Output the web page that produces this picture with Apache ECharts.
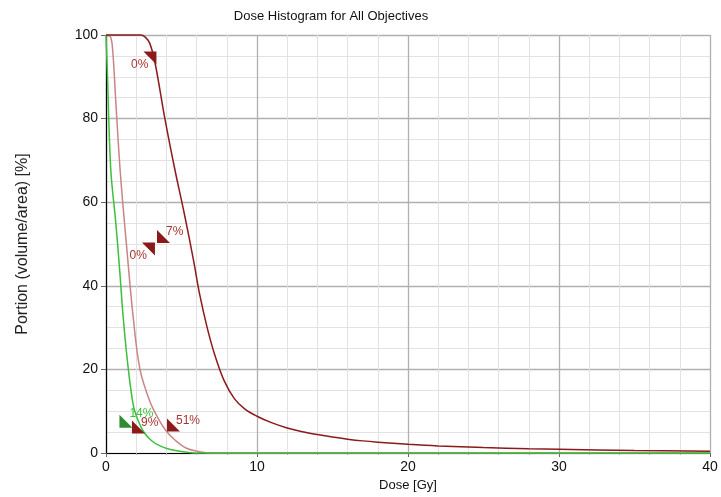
<!DOCTYPE html>
<html>
<head>
<meta charset="utf-8">
<script src="https://cdn.jsdelivr.net/npm/echarts@6/dist/echarts.min.js"></script>
<style>
html,body{margin:0;padding:0;background:#fff;}
#c{width:721px;height:497px;}
</style>
</head>
<body>
<div id="c"></div>
<script>
// ---- data ----
const titleText = 'Dose Histogram for All Objectives';
const xTitle = 'Dose [Gy]';
const yTitle = 'Portion (volume/area) [%]';

const darkRedDose = [0, 2.3, 2.6, 2.9, 3.25, 3.9, 4.55, 5.2, 5.8, 6.2, 6.7, 7.2, 7.8, 8.5, 9.2, 10, 11, 12, 13, 14, 15, 16, 17, 18, 20, 22, 25, 28, 30, 35, 40];
const darkRedVol  = [100, 100, 99.5, 98, 93.3, 80, 68, 57, 46, 38, 30, 23.5, 17.5, 13, 10.5, 8.8, 7.2, 6, 5.1, 4.4, 3.8, 3.3, 2.9, 2.6, 2.1, 1.7, 1.3, 1.0, 0.9, 0.6, 0.4];

const pinkDose = [0, 0.3, 0.45, 0.65, 0.95, 1.4, 1.8, 2.25, 2.9, 3.5, 4.0, 4.6, 5.3, 6.2, 7, 40];
const pinkVol  = [100, 99.5, 96, 84, 67, 48, 32.5, 20, 12.4, 8, 5.2, 3, 1.2, 0.3, 0, 0];

const greenDose = [0, 0.1, 0.2, 0.33, 0.65, 0.9, 1.15, 1.48, 1.81, 2.1, 2.47, 3, 3.58, 4.2, 4.9, 5.8, 40];
const greenVol  = [100, 90, 78, 67, 55, 44, 32, 20, 11.4, 8, 5.2, 3, 1.7, 0.9, 0.4, 0, 0];

// objective markers: [dose, volume, label]
const maxMarkers = [[2.91, 94.5, '0%'], [2.81, 48.8, '0%']];
const minRedMarkers = [[3.81, 51.8, '7%'], [2.15, 6.2, '9%'], [4.47, 6.7, '51%']];
const minGreenMarkers = [[1.32, 7.6, '14%']];

const xTicks = [0, 10, 20, 30, 40];
const yTicks = [0, 20, 40, 60, 80, 100];

// ---- chart ----
const pairs = (xs, ys) => xs.map((x, i) => [x, ys[i]]);
const font = 'Liberation Sans, Arial, sans-serif';
const RED = '#8b1a1a', PINK = '#c98585', GREEN = '#3cbf3c';
const triMin = 'path://M0,0L0,10L10,10Z';
const triMax = 'path://M0,0L10,0L10,10Z';

const chart = echarts.init(document.getElementById('c'), null, {renderer: 'canvas'});
chart.setOption({
  animation: false,
  backgroundColor: '#fff',
  title: {
    text: titleText, left: 326, top: 5, textAlign: 'center',
    textStyle: {fontFamily: font, fontSize: 13, fontWeight: 'normal', color: '#111'}
  },
  grid: {left: 106, right: 11, top: 35, bottom: 42},
  xAxis: {
    type: 'value', min: xTicks[0], max: xTicks[xTicks.length - 1], interval: 10,
    name: xTitle, nameLocation: 'middle', nameGap: 26,
    nameTextStyle: {fontFamily: font, fontSize: 13, color: '#111'},
    axisLine: {lineStyle: {color: '#000', width: 1.2}},
    axisTick: {show: true, length: 4, lineStyle: {color: '#666'}},
    axisLabel: {fontFamily: font, fontSize: 14, color: '#111', margin: 7},
    splitLine: {lineStyle: {color: '#b0b0b0', width: 1.3}},
    minorTick: {show: true, splitNumber: 5, length: 2, lineStyle: {color: '#aaa'}},
    minorSplitLine: {show: true, lineStyle: {color: '#e2e2e2', width: 1}}
  },
  yAxis: {
    type: 'value', min: yTicks[0], max: yTicks[yTicks.length - 1], interval: 20,
    name: yTitle, nameLocation: 'middle', nameGap: 75, nameRotate: 90,
    nameTextStyle: {fontFamily: font, fontSize: 16, color: '#222'},
    axisLine: {show: true, lineStyle: {color: '#000', width: 1.2}},
    axisTick: {show: true, length: 5, lineStyle: {color: '#666'}},
    axisLabel: {fontFamily: font, fontSize: 14, color: '#111', margin: 8},
    splitLine: {lineStyle: {color: '#b0b0b0', width: 1.3}},
    minorTick: {show: false, splitNumber: 4},
    minorSplitLine: {show: true, lineStyle: {color: '#e2e2e2', width: 1}}
  },
  series: [
    {type: 'line', data: pairs(pinkDose, pinkVol), showSymbol: false, smooth: 0.35, clip: false,
     lineStyle: {color: PINK, width: 1.5}, z: 2},
    {type: 'line', data: pairs(greenDose, greenVol), showSymbol: false, smooth: 0.35, clip: false,
     lineStyle: {color: GREEN, width: 1.5}, z: 3},
    {type: 'line', data: pairs(darkRedDose, darkRedVol), showSymbol: false, smooth: 0.35, clip: false,
     lineStyle: {color: RED, width: 1.5}, z: 4},
    {type: 'scatter', data: maxMarkers, symbol: triMax, symbolSize: 13, z: 5,
     itemStyle: {color: RED, opacity: 1},
     label: {show: true, formatter: p => p.data[2], position: [5, 13], align: 'right', verticalAlign: 'middle',
             fontFamily: font, fontSize: 12, color: '#a83232'}},
    {type: 'scatter', data: minRedMarkers, symbol: triMin, symbolSize: 13, z: 5,
     itemStyle: {color: RED, opacity: 1},
     label: {show: true, formatter: p => p.data[2], position: [9, 2], align: 'left', verticalAlign: 'middle',
             fontFamily: font, fontSize: 12, color: '#a83232'}},
    {type: 'scatter', data: minGreenMarkers, symbol: triMin, symbolSize: 13, z: 5,
     itemStyle: {color: '#2e8b2e', opacity: 1},
     label: {show: true, formatter: p => p.data[2], position: [10, -1], align: 'left', verticalAlign: 'middle',
             fontFamily: font, fontSize: 12, color: '#3cbf3c'}}
  ]
});
</script>
</body>
</html>
